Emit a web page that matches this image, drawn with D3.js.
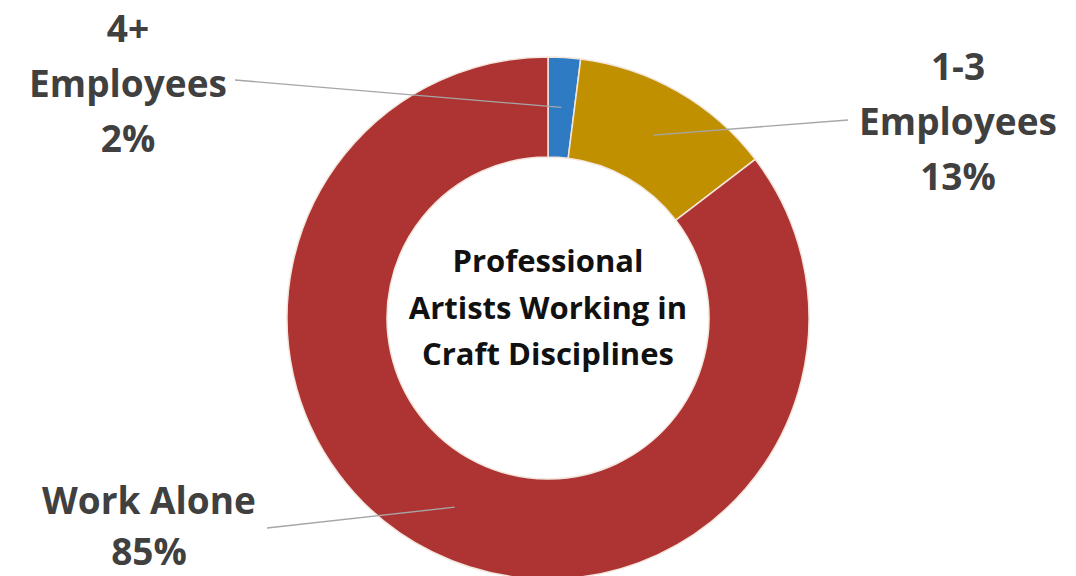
<!DOCTYPE html>
<html>
<head>
<meta charset="utf-8">
<script src="https://cdn.jsdelivr.net/npm/d3@7"></script>
<style>
  html, body { margin: 0; padding: 0; background: #fff; }
  svg { display: block; }
</style>
</head>
<body>
<svg id="chart" width="1076" height="576"></svg>
<script>
// ---- data ----
const categories = ["4+ Employees", "1-3 Employees", "Work Alone"];
const labelLines = [["4+", "Employees", "2%"], ["1-3", "Employees", "13%"], ["Work Alone", "85%"]];
const values = [2.0, 12.6, 85.4];
const colors = ["#2e7bc4", "#c09000", "#ae3434"];
const centerTitle = ["Professional", "Artists Working in", "Craft Disciplines"];

// ---- layout ----
const W = 1076, H = 576;
const cx = 548, cy = 318, outerR = 261, innerR = 161;
// label anchor (center x, first baseline, line gap) and leader end point
const labelLayout = [
  { x: 128, y: 42, gap: 55, lx: 235, ly: 80 },
  { x: 958, y: 80, gap: 55, lx: 848, ly: 120 },
  { x: 149, y: 514, gap: 51, lx: 267, ly: 528 }
];

const svg = d3.select("#chart");
const g = svg.append("g").attr("transform", `translate(${cx},${cy})`);

const pie = d3.pie().sort(null).value(d => d.v).startAngle(0).endAngle(2 * Math.PI);
const arcs = pie(values.map((v, i) => ({ v, i })));
const arc = d3.arc().innerRadius(innerR).outerRadius(outerR);

g.selectAll("path.slice")
  .data(arcs)
  .join("path")
  .attr("class", "slice")
  .attr("d", arc)
  .attr("fill", d => colors[d.data.i])
  .attr("stroke", "#f3e6dc")
  .attr("stroke-width", 1.5);

// leader lines
g.selectAll("line.leader")
  .data(arcs)
  .join("line")
  .attr("class", "leader")
  .attr("x1", d => arc.centroid(d)[0])
  .attr("y1", d => arc.centroid(d)[1])
  .attr("x2", d => labelLayout[d.data.i].lx - cx)
  .attr("y2", d => labelLayout[d.data.i].ly - cy)
  .attr("stroke", "#a6a6a6")
  .attr("stroke-width", 1.3);

// outer labels
const lbl = svg.selectAll("text.lbl")
  .data(categories)
  .join("text")
  .attr("class", "lbl")
  .attr("text-anchor", "middle")
  .attr("font-family", "'Open Sans', sans-serif")
  .attr("font-weight", "bold")
  .attr("font-size", 37)
  .attr("fill", "#404040");
lbl.each(function(d, i) {
  const t = d3.select(this);
  labelLines[i].forEach((s, k) => {
    t.append("tspan")
      .attr("x", labelLayout[i].x)
      .attr("y", labelLayout[i].y + k * labelLayout[i].gap)
      .text(s);
  });
});

// center title
const ct = svg.append("text")
  .attr("text-anchor", "middle")
  .attr("font-family", "'Open Sans', sans-serif")
  .attr("font-weight", "bold")
  .attr("font-size", 31)
  .attr("fill", "#111");
centerTitle.forEach((s, k) => {
  ct.append("tspan").attr("x", cx).attr("y", 272 + k * 46.5).text(s);
});
</script>
</body>
</html>
